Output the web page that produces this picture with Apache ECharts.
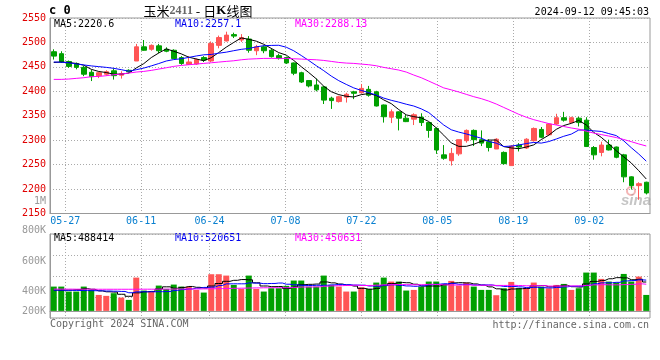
<!DOCTYPE html>
<html><head><meta charset="utf-8">
<script src="https://cdn.jsdelivr.net/npm/echarts@6/dist/echarts.min.js"></script>
<style>html,body{margin:0;padding:0;background:#fff}#c{width:660px;height:360px}</style>
</head><body><div id="c"></div><script>
const dates = ['05-23','05-24','05-27','05-28','05-29','05-30','05-31','06-03','06-04','06-05','06-06','06-07',
'06-11','06-12','06-13','06-14','06-17','06-18','06-19','06-20','06-21','06-24','06-25','06-26','06-27','06-28',
'07-01','07-02','07-03','07-04','07-05','07-08','07-09','07-10','07-11','07-12','07-15','07-16','07-17','07-18','07-19',
'07-22','07-23','07-24','07-25','07-26','07-29','07-30','07-31','08-01','08-02','08-05','08-06','08-07','08-08','08-09',
'08-12','08-13','08-14','08-15','08-16','08-19','08-20','08-21','08-22','08-23','08-26','08-27','08-28','08-29','08-30',
'09-02','09-03','09-04','09-05','09-06','09-09','09-10','09-11','09-12'];
const tickDates = ['05-27','06-11','06-24','07-08','07-22','08-05','08-19','09-02'];

const opens = [2481,2477,2461,2457,2449,2439,2432,2435,2442,2433,2443,2462,2491,2486,2493,2486,2484,2469,2455,2456,
2469,2462,2494,2503,2516,2505,2507,2483,2491,2484,2473,2469,2458,2438,2422,2413,2409,2386,2379,2388,
2399,2397,2404,2399,2372,2347,2358,2345,2343,2347,2336,2324,2270,2258,2272,2299,2320,2301,2297,2282,
2275,2248,2290,2284,2299,2322,2311,2333,2346,2336,2345,2341,2285,2275,2290,2286,2270,2225,2207,2214];
const closes = [2472,2460,2451,2449,2435,2430,2438,2440,2432,2436,2440,2491,2484,2494,2483,2482,2467,2457,2460,2465,
2464,2498,2510,2515,2513,2510,2484,2491,2483,2471,2467,2458,2437,2419,2411,2403,2382,2381,2389,2394,
2396,2406,2392,2370,2348,2358,2345,2338,2352,2336,2320,2280,2263,2273,2301,2320,2301,2294,2285,2302,
2252,2288,2286,2302,2324,2306,2333,2346,2341,2346,2336,2287,2270,2290,2280,2265,2225,2207,2211,2192];
const lows = [2465,2458,2448,2445,2431,2421,2427,2432,2424,2426,2438,2462,2483,2483,2478,2480,2466,2454,2454,2454,
2460,2460,2488,2502,2509,2501,2479,2474,2478,2469,2465,2456,2433,2417,2408,2400,2374,2364,2377,2377,
2384,2396,2389,2369,2336,2335,2320,2337,2331,2329,2305,2272,2260,2248,2268,2295,2288,2288,2277,2282,
2250,2248,2277,2282,2297,2304,2309,2331,2338,2335,2328,2286,2260,2267,2279,2263,2214,2199,2178,2189];
const highs = [2486,2482,2463,2459,2452,2444,2440,2443,2447,2441,2445,2497,2505,2496,2497,2490,2486,2472,2472,2467,
2472,2502,2514,2522,2520,2517,2513,2495,2494,2488,2477,2471,2459,2440,2423,2426,2411,2389,2391,2397,
2401,2415,2411,2401,2373,2363,2359,2352,2355,2355,2337,2326,2290,2284,2301,2322,2322,2320,2302,2304,
2277,2290,2294,2304,2326,2327,2335,2354,2358,2348,2348,2347,2288,2297,2301,2287,2272,2226,2214,2215];

const ma5 = [2459,2460,2459,2457,2453.4,2445.0,2440.6,2438.4,2435.0,2435.2,2437.2,2447.8,2456.6,2469.0,2478.4,2486.8,2482.0,2476.6,2469.8,2466.2,
2462.6,2468.8,2479.4,2490.4,2500.0,2509.2,2506.4,2502.6,2496.2,2487.8,2479.2,2474.0,2463.2,2450.4,2438.4,2425.6,2410.4,2399.2,2393.2,2389.8,
2388.4,2393.2,2395.4,2391.6,2382.4,2374.8,2362.6,2351.8,2348.2,2345.8,2338.2,2325.2,2310.2,2294.4,2287.4,2287.4,2291.6,2297.8,2300.2,2300.4,
2286.8,2284.2,2282.6,2286.0,2290.4,2301.2,2310.2,2322.2,2330.0,2334.4,2340.4,2331.2,2316.0,2305.8,2292.6,2278.4,2266.0,2253.4,2237.6,2220.6];
const ma10 = [2460,2459.5,2458.5,2456,2454,2452,2450.5,2449,2447,2444.3,2441.1,2444.2,2447.5,2452.0,2456.8,2462.0,2464.9,2466.6,2469.4,2472.3,
2474.7,2475.4,2478.0,2480.1,2483.1,2485.9,2487.6,2491.0,2493.3,2493.9,2494.2,2490.2,2482.9,2473.3,2463.1,2452.4,2442.2,2431.2,2421.8,2414.1,
2407.0,2401.8,2397.3,2392.4,2386.1,2381.6,2377.9,2373.6,2369.9,2364.1,2356.5,2343.9,2331.0,2321.3,2316.6,2312.8,2308.4,2304.0,2297.3,2293.9,
2287.1,2287.9,2290.2,2293.1,2295.4,2294.0,2297.2,2302.4,2308.0,2312.4,2320.8,2320.7,2319.1,2317.9,2313.5,2309.4,2298.6,2284.7,2271.7,2257.1];
const ma30 = [2424.4,2424.4,2425.1,2426.5,2427.8,2429.9,2430.5,2431.9,2434,2435.3,2437.3,2439.4,2440.7,2442.8,2445.5,2448.2,2451,2453,2454.4,2455.7,
2457.1,2458.4,2459.8,2461.2,2462.5,2464.5,2465.9,2466.6,2467.3,2467.3,2467.3,2467.3,2466.6,2465.9,2465.2,2464.5,2463.2,2461.2,2459.1,2457.8,
2457.1,2455.7,2454.4,2452.3,2448.9,2446.2,2443.5,2439.4,2433.3,2427.8,2421,2414,2407,2403,2398.6,2393.8,2389,2385,2380,2374,
2367,2360,2353,2347,2342,2338,2334,2331,2328,2325,2322.5,2318.5,2314.5,2311.5,2308.5,2305.4,2301.4,2297.0,2292.3,2288.13];

// volume, thousand lots
const volumes = [411,411,327,327,411,355,270,254,299,225,186,563,344,327,428,372,445,411,411,355,
310,620,620,597,439,372,597,372,327,383,383,423,513,513,411,411,597,439,411,327,
327,400,372,479,563,496,496,344,355,411,496,496,456,507,428,479,411,355,355,265,
383,490,383,383,479,411,383,439,456,355,383,648,648,541,496,479,625,496,580,270];
const volMa5 = [350,350,352,360,377,366,338,323,318,281,247,305,323,329,370,407,383,397,413,399,
386,421,463,500,517,530,525,475,421,410,412,378,406,443,449,454,489,474,454,437,
420,381,367,381,428,462,481,476,451,420,420,420,443,473,477,473,456,436,406,373,
354,370,375,381,424,429,408,419,434,409,403,456,498,515,543,562,558,527,535,488.4];
const volMa10 = [350,350,348,346,344,342,340,336,333,329,307,322,323,323,325,327,344,360,371,384,
397,402,430,457,458,458,473,469,461,464,471,451,441,432,429,433,433,440,448,443,
437,435,421,417,433,441,431,422,416,424,441,451,459,462,449,447,438,439,439,425,
414,413,406,393,398,392,389,397,407,416,416,432,459,474,476,483,507,513,525,520.7];
const volMa30 = [368,368,368,367,367,367,366,366,366,366,366,367,367,367,368,368,369,370,370,371,
372,374,377,380,382,384,387,389,391,392.3,391.4,391.8,398.0,404.2,404.2,406.0,416.9,423.1,426.8,430.2,
434.9,429.5,430.4,435.5,440.0,444.1,445.8,443.6,441.7,443.6,449.8,445.7,440.2,437.2,436.8,440.4,434.2,433.6,434.6,430.6,
430.6,432.9,428.5,424.2,426.5,426.5,419.3,419.3,420.8,421.8,423.6,431.9,441.1,443.2,440.9,440.4,444.7,449.7,457.2,450.6];
const volTickLabels = [200,400,600,800];

const UP = '#ff5555', DOWN = '#00a000';
const MONO = 'DejaVu Sans Mono';
const dotted = {color:'#aaa', type:[1,2], width:1};
const candles = opens.map((o,i)=>[o, closes[i], lows[i], highs[i]]);
const tickIdx = tickDates.map(d => dates.indexOf(d));
const slots = dates.length - 1;

const chart = echarts.init(document.getElementById('c'), null, {renderer:'canvas'});
const lineS = (data, color, xi, yi, step) => ({type:'line', data, xAxisIndex:xi, yAxisIndex:yi, symbol:'none',
  step: step || false, lineStyle:{color, width:1}, itemStyle:{color}, silent:true, z:3});

chart.setOption({
  animation:false,
  grid:[
    {left:50, right:10, top:18, height:195.5, show:true, borderColor:'#999', borderWidth:1, backgroundColor:'transparent'},
    {left:50, right:10, top:234, height:84, show:true, borderColor:'#999', borderWidth:1, backgroundColor:'transparent'}
  ],
  xAxis:[
    {type:'category', gridIndex:0, data:dates, boundaryGap:true, position:'bottom',
     axisLine:{show:true, lineStyle:{color:'#999'}}, axisTick:{show:false}, axisLabel:{show:false}, splitLine:{show:false}},
    {type:'value', gridIndex:0, min:0, max:slots, position:'bottom',
     axisLine:{show:false}, axisTick:{show:false, customValues:tickIdx},
     axisLabel:{customValues:tickIdx, formatter:v=>dates[v], color:'#0a80d0', fontFamily:MONO, fontSize:10, margin:3},
     splitLine:{show:true, lineStyle:dotted}},
    {type:'category', gridIndex:1, data:dates, boundaryGap:true, position:'bottom',
     axisLine:{show:true, lineStyle:{color:'#999'}}, axisTick:{show:false}, axisLabel:{show:false}, splitLine:{show:false}},
    {type:'value', gridIndex:1, min:0, max:slots, position:'bottom',
     axisLine:{show:false}, axisTick:{show:false, customValues:tickIdx}, axisLabel:{show:false},
     splitLine:{show:true, lineStyle:dotted}}
  ],
  yAxis:[
    {type:'value', gridIndex:0, min:2150, max:2550, interval:50, position:'left',
     axisLine:{show:true, lineStyle:{color:'#999'}}, axisTick:{show:false},
     axisLabel:{color:'#e00000', fontFamily:MONO, fontSize:10, margin:4, formatter:v=>String(v)},
     splitLine:{show:true, lineStyle:dotted}},
    {type:'value', gridIndex:1, min:-120, max:1300, interval:355, position:'left',
     axisLine:{show:true, lineStyle:{color:'#999'}}, axisTick:{show:false}, axisLabel:{show:false},
     splitLine:{show:true, lineStyle:dotted}},
    {type:'value', gridIndex:1, min:130, max:970, position:'left',
     axisLine:{show:false}, axisTick:{show:false}, splitLine:{show:false},
     axisLabel:{customValues:volTickLabels, color:'#999', fontFamily:MONO, fontSize:10, margin:4,
       formatter:v=>'{k'+v+'|'+v+'K}',
       rich:{
         k200:{color:'#999', fontFamily:MONO, fontSize:10},
         k400:{color:'#999', fontFamily:MONO, fontSize:10},
         k600:{color:'#999', fontFamily:MONO, fontSize:10, padding:[0,0,20,0]},
         k800:{color:'#999', fontFamily:MONO, fontSize:10, padding:[0,0,42,0]}
       }}}
  ],
  series:[
    {type:'candlestick', xAxisIndex:0, yAxisIndex:0, data:candles, barWidth:5, silent:true,
     itemStyle:{color:UP, color0:DOWN, borderColor:UP, borderColor0:DOWN, borderWidth:1}},
    lineS(ma5, '#000000', 0, 0),
    lineS(ma10, '#0000ff', 0, 0),
    lineS(ma30, '#ff00ff', 0, 0),
    {type:'bar', xAxisIndex:2, yAxisIndex:1, data:volumes, barWidth:6, silent:true,
     itemStyle:{color:p => closes[p.dataIndex] > opens[p.dataIndex] ? UP : DOWN}},
    lineS(volMa5, '#000000', 2, 1, 'middle'),
    lineS(volMa10, '#0000ff', 2, 1, 'middle'),
    lineS(volMa30, '#ff00ff', 2, 1, 'middle')
  ],
  graphic:[
    {type:'text', silent:true, style:{x:49, y:11, align:'left', verticalAlign:'middle', text:'c 0', font:'bold 12px "DejaVu Sans Mono"', fill:'#000'}},
    {type:'text', silent:true, style:{x:198, y:11, align:'center', verticalAlign:'middle',
      text:'{a|玉米}{b|2411}{a| - 日}{k|K}{a|线图}',
      rich:{a:{font:'13px "Noto Sans CJK SC"', fill:'#000'}, b:{font:'bold 12px "Liberation Serif"', fill:'#666'}, k:{font:'bold 13px "Liberation Serif"', fill:'#000'}}}},
    {type:'text', silent:true, style:{x:649, y:12, align:'right', verticalAlign:'middle', text:'2024-09-12 09:45:03', font:'10px "DejaVu Sans Mono"', fill:'#000'}},
    {type:'text', silent:true, style:{x:54, y:24, align:'left', verticalAlign:'middle', text:'MA5:2220.6', font:'10px "DejaVu Sans Mono"', fill:'#000'}},
    {type:'text', silent:true, style:{x:175, y:24, align:'left', verticalAlign:'middle', text:'MA10:2257.1', font:'10px "DejaVu Sans Mono"', fill:'#0000ee'}},
    {type:'text', silent:true, style:{x:295, y:24, align:'left', verticalAlign:'middle', text:'MA30:2288.13', font:'10px "DejaVu Sans Mono"', fill:'#ff00ff'}},
    {type:'text', silent:true, style:{x:46, y:201, align:'right', verticalAlign:'middle', text:'1M', font:'10px "DejaVu Sans Mono"', fill:'#999'}},
    {type:'text', silent:true, style:{x:54, y:238, align:'left', verticalAlign:'middle', text:'MA5:488414', font:'10px "DejaVu Sans Mono"', fill:'#000'}},
    {type:'text', silent:true, style:{x:175, y:238, align:'left', verticalAlign:'middle', text:'MA10:520651', font:'10px "DejaVu Sans Mono"', fill:'#0000ee'}},
    {type:'text', silent:true, style:{x:295, y:238, align:'left', verticalAlign:'middle', text:'MA30:450631', font:'10px "DejaVu Sans Mono"', fill:'#ff00ff'}},
    {type:'text', silent:true, style:{x:50, y:324, align:'left', verticalAlign:'middle', text:'Copyright 2024 SINA.COM', font:'10px "DejaVu Sans Mono"', fill:'#666'}},
    {type:'text', silent:true, style:{x:649, y:325, align:'right', verticalAlign:'middle', text:'http://finance.sina.com.cn', font:'10px "DejaVu Sans Mono"', fill:'#666'}},
    {type:'circle', silent:true, shape:{cx:631, cy:191, r:4}, style:{fill:'none', stroke:'rgba(230,90,90,0.45)', lineWidth:2}},
    {type:'text', silent:true, style:{x:636, y:201, align:'center', verticalAlign:'middle', text:'sina', font:'italic bold 15px "Liberation Sans"', fill:'rgba(150,150,150,0.55)'}}
  ]
});
</script></body></html>
